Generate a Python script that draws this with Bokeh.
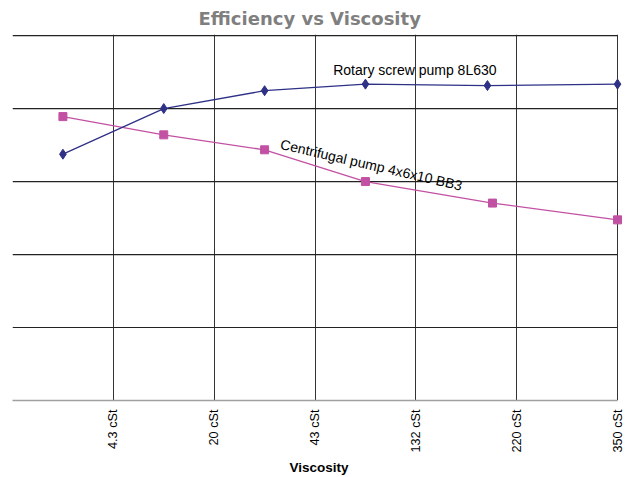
import math
from bokeh.plotting import figure
from bokeh.models import FixedTicker, Range1d, Label
from bokeh.embed import file_html
from bokeh.resources import INLINE

# ---- data ----
tick_positions = [1, 2, 3, 4, 5, 6]
tick_labels = ["4.3 cSt", "20 cSt", "43 cSt", "132 cSt", "220 cSt", "350 cSt"]

rotary_x = [0.5, 1.5, 2.5, 3.5, 4.71, 6.0]
rotary_y = [67.5, 80.0, 84.9, 86.7, 86.3, 86.7]

centrifugal_x = [0.5, 1.5, 2.5, 3.5, 4.76, 6.0]
centrifugal_y = [77.8, 72.8, 68.7, 60.0, 54.1, 49.5]

y_grid = [20, 40, 60, 80, 100]

chart_title = "Efficiency vs Viscosity"
rotary_name = "Rotary screw pump 8L630"
centrifugal_name = "Centrifugal pump 4x6x10 BB3"

X_MIN, X_MAX = 0, 6

ROTARY_COLOR = "#2E3186"
CENT_COLOR = "#C251A3"

p = figure(width=625, height=477,
           x_range=Range1d(X_MIN, 6.079), y_range=Range1d(0, 100.3),
           output_backend="svg", toolbar_location=None,
           min_border_left=12, min_border_right=0,
           min_border_top=33, min_border_bottom=77)

p.title.text = chart_title
p.title.align = "left"
p.title.text_font = "DejaVu Sans"
p.title.text_font_style = "bold"
p.title.text_font_size = "18px"
p.title.text_color = "#7F7F7F"
p.title.text_line_height = 0.85
p.title.standoff = 11
p.title.offset = 186

p.outline_line_color = None
p.background_fill_color = "white"
p.border_fill_color = "white"

p.yaxis.visible = False

ax = p.xaxis[0]
ax.ticker = FixedTicker(ticks=tick_positions)
ax.bounds = (X_MIN, X_MAX)
ax.major_label_overrides = {t: l for t, l in zip(tick_positions, tick_labels)}
ax.major_label_orientation = math.pi / 2
ax.major_label_text_font = "Liberation Sans"
ax.major_label_text_font_size = "12.7px"
ax.major_label_text_color = "#000000"
ax.major_label_standoff = 9
ax.major_tick_in = 0
ax.major_tick_out = 0
ax.minor_tick_in = 0
ax.minor_tick_out = 0
ax.axis_line_color = "#A0A0A0"
ax.axis_line_width = 1.5
ax.axis_label = "Viscosity"
ax.axis_label_text_font = "Liberation Sans"
ax.axis_label_text_font_style = "bold"
ax.axis_label_text_font_size = "13.5px"
ax.axis_label_text_color = "#000000"
ax.axis_label_standoff = 4

p.xgrid.ticker = FixedTicker(ticks=tick_positions)
p.xgrid.grid_line_color = "#333333"
p.xgrid.grid_line_width = 1
p.ygrid.visible = False

# horizontal grid lines limited to the x extent of the chart
p.segment(x0=[X_MIN] * len(y_grid), x1=[X_MAX] * len(y_grid), y0=y_grid, y1=y_grid,
          line_color="#222222", line_width=1.2)

p.line(centrifugal_x, centrifugal_y, line_color=CENT_COLOR, line_width=1.3)
p.scatter(centrifugal_x, centrifugal_y, marker="square", size=8,
          fill_color=CENT_COLOR, line_color=CENT_COLOR)

p.line(rotary_x, rotary_y, line_color=ROTARY_COLOR, line_width=1.3)
p.scatter(rotary_x, rotary_y, marker="diamond", size=10,
          fill_color=ROTARY_COLOR, line_color=ROTARY_COLOR)

# series name labels
ROTARY_LABEL_POS = (3.99, 90.6)
CENT_LABEL_POS = (2.66, 70.3)
p.add_layout(Label(x=ROTARY_LABEL_POS[0], y=ROTARY_LABEL_POS[1], text=rotary_name,
                   text_font="Liberation Sans", text_font_size="14px",
                   text_align="center", text_baseline="middle",
                   text_color="#000000"))
p.add_layout(Label(x=CENT_LABEL_POS[0], y=CENT_LABEL_POS[1], text=centrifugal_name,
                   text_font="Liberation Sans", text_font_size="14px",
                   text_align="left", text_baseline="alphabetic",
                   angle=-0.227, text_color="#000000"))

open("out.html", "w").write(file_html(p, INLINE))
